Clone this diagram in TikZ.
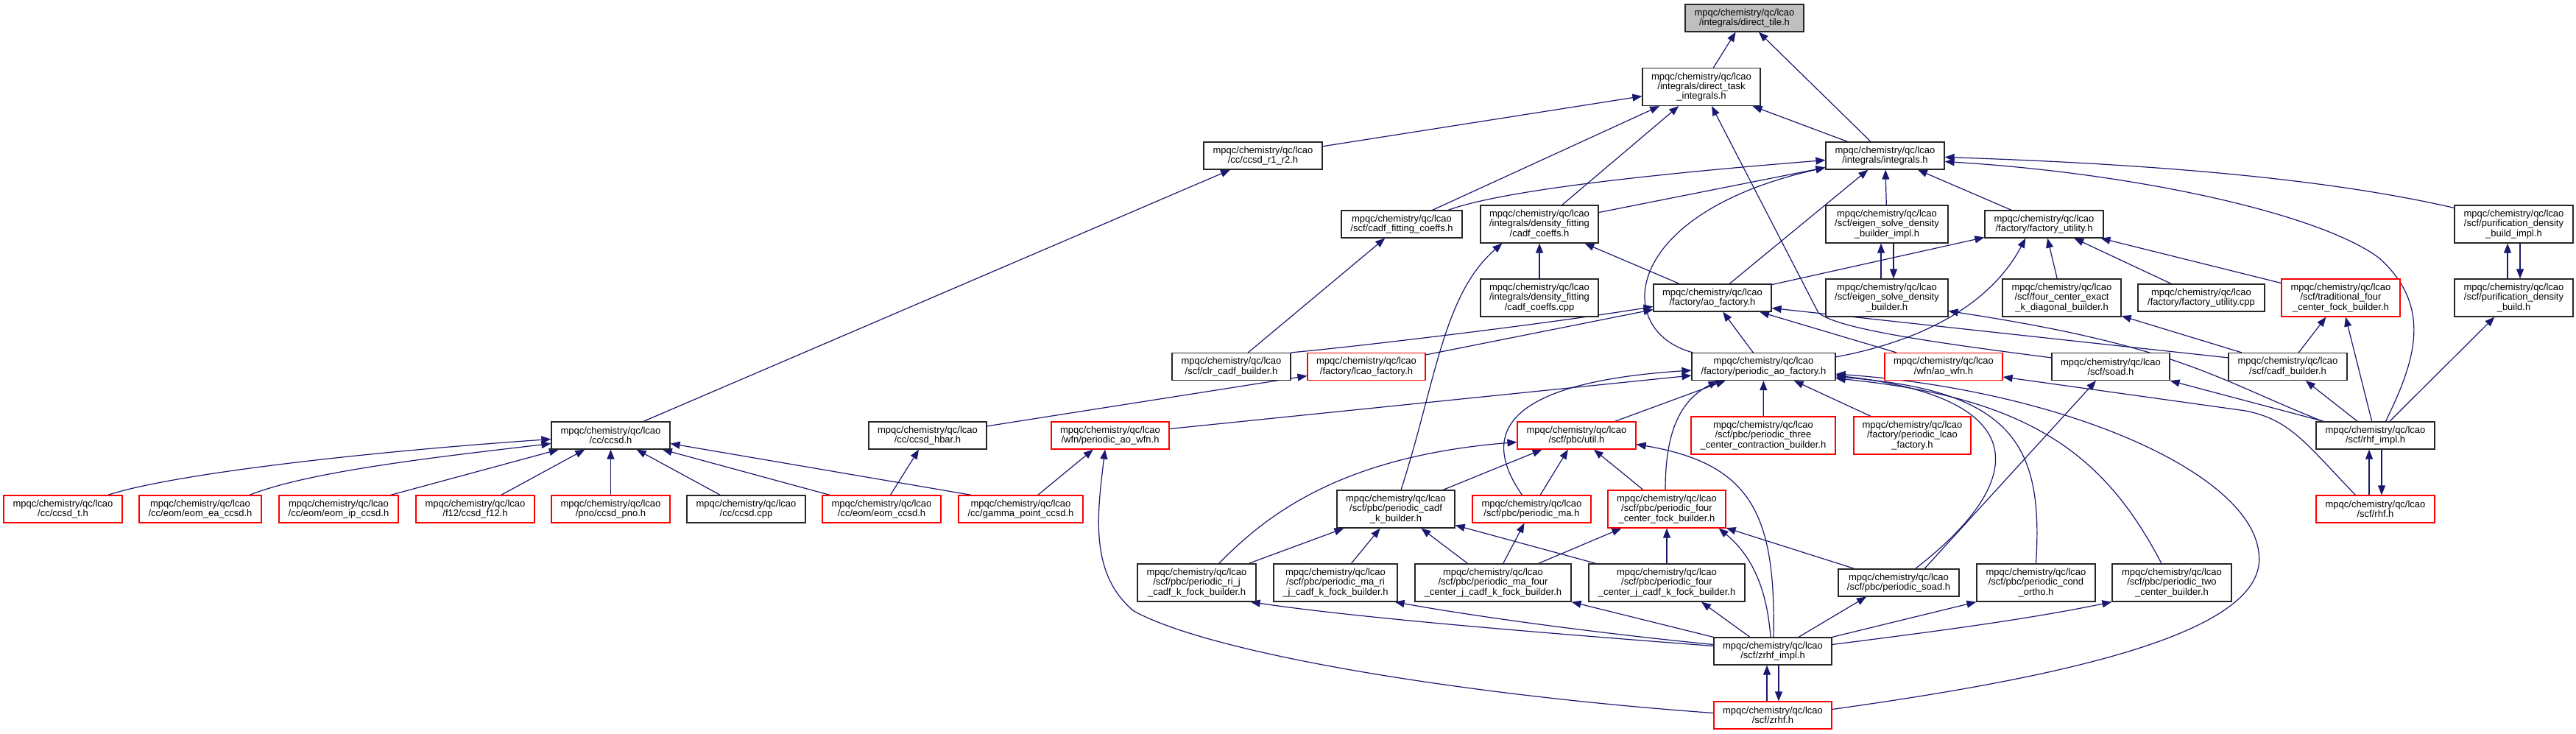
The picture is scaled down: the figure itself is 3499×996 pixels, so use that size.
\documentclass[tikz,border=0pt]{standalone}
\usepackage{fontspec}
\setmainfont{Liberation Sans}
\usetikzlibrary{arrows.meta,calc}
\definecolor{edgeblue}{HTML}{191970}
\definecolor{hlgray}{HTML}{BFBFBF}
\newcommand{\mq}{mpqc/chemistry/qc/lcao\\}
\pgfdeclarelayer{back}
\pgfdeclarelayer{bg}
\pgfsetlayers{back,bg,main}
\begin{document}
\begin{tikzpicture}[x=1pt,y=-1pt,
 nd/.style={draw=black!85,line width=1.2pt,fill=white,inner sep=0pt,align=center,
   font=\fontsize{13}{13.3}\selectfont,minimum width=161pt,minimum height=37pt},
 rn/.style={nd,draw=red},
 tall/.style={minimum height=51pt},
 ed/.style={draw=edgeblue,line width=1.2pt,-{Triangle[length=13pt,width=10pt]}}]
\begin{pgfonlayer}{back}
\fill[white] (0,0) rectangle (3499,996);
\end{pgfonlayer}
\useasboundingbox (0,0) rectangle (3499,996);
% row 0-1
\node[nd,fill=hlgray] (tile) at (2369.5,24.5) {\mq/integrals/direct\_tile.h};
\node[nd,tall,minimum width=160pt] (task) at (2311,118) {\mq/integrals/direct\_task\\\_integrals.h};
% row 2
\node[nd] (r1r2) at (1715.5,211.5) {\mq/cc/ccsd\_r1\_r2.h};
\node[nd] (integrals) at (2560.5,211.5) {\mq/integrals/integrals.h};
% row 3
\node[nd,minimum width=164pt] (cadffit) at (1904,304.5) {\mq/scf/cadf\_fitting\_coeffs.h};
\node[nd,tall,minimum width=160pt] (dfh) at (2091,304.5) {\mq/integrals/density\_fitting\\/cadf\_coeffs.h};
\node[nd,tall,minimum width=166pt] (eigimpl) at (2563,304.5) {\mq/scf/eigen\_solve\_density\\\_builder\_impl.h};
\node[nd] (futil) at (2776.5,304.5) {\mq/factory/factory\_utility.h};
\node[nd,tall] (purimpl) at (3414.5,304.5) {\mq/scf/purification\_density\\\_build\_impl.h};
% row 4
\node[nd,tall,minimum width=160pt] (dfcpp) at (2091,404.5) {\mq/integrals/density\_fitting\\/cadf\_coeffs.cpp};
\node[nd,minimum width=160pt] (aofac) at (2326,404.5) {\mq/factory/ao\_factory.h};
\node[nd,tall,minimum width=166pt] (eig) at (2563,404.5) {\mq/scf/eigen\_solve\_density\\\_builder.h};
\node[nd,tall] (fcexact) at (2800.5,404.5) {\mq/scf/four\_center\_exact\\\_k\_diagonal\_builder.h};
\node[nd,minimum width=172pt] (futilcpp) at (2990,404.5) {\mq/factory/factory\_utility.cpp};
\node[rn,tall] (trad) at (3179.5,404.5) {\mq/scf/traditional\_four\\\_center\_fock\_builder.h};
\node[nd,tall] (pur) at (3414.5,404.5) {\mq/scf/purification\_density\\\_build.h};
% row 5
\node[nd] (clr) at (1672.5,498) {\mq/scf/clr\_cadf\_builder.h};
\node[rn,minimum width=160pt] (lcaofac) at (1856,498) {\mq/factory/lcao\_factory.h};
\node[nd,minimum width=195pt] (paofac) at (2395.5,498) {\mq/factory/periodic\_ao\_factory.h};
\node[rn,minimum width=160pt] (aowfn) at (2640,498) {\mq/wfn/ao\_wfn.h};
\node[nd,minimum width=160pt] (soad) at (2867,498) {\mq/scf/soad.h};
\node[nd] (cadfb) at (3107.5,498) {\mq/scf/cadf\_builder.h};
% row 6
\node[nd] (ccsd) at (829.5,591.5) {\mq/cc/ccsd.h};
\node[nd,minimum width=160pt] (hbar) at (1260,591.5) {\mq/cc/ccsd\_hbar.h};
\node[rn,minimum width=160pt] (paowfn) at (1508,591.5) {\mq/wfn/periodic\_ao\_wfn.h};
\node[rn] (util) at (2141.5,591.5) {\mq/scf/pbc/util.h};
\node[rn,tall,minimum width=196pt] (three) at (2395,591.5) {\mq/scf/pbc/periodic\_three\\\_center\_contraction\_builder.h};
\node[rn,tall,minimum width=159pt] (plcao) at (2597.5,591.5) {\mq/factory/periodic\_lcao\\\_factory.h};
\node[nd] (rhfimpl) at (3226.5,591.5) {\mq/scf/rhf\_impl.h};
% row 7
\node[rn] (ccsdt) at (85.5,691.5) {\mq/cc/ccsd\_t.h};
\node[rn,minimum width=166pt] (eomea) at (272,691.5) {\mq/cc/eom/eom\_ea\_ccsd.h};
\node[rn,minimum width=162pt] (eomip) at (460,691.5) {\mq/cc/eom/eom\_ip\_ccsd.h};
\node[rn] (f12) at (645.5,691.5) {\mq/f12/ccsd\_f12.h};
\node[rn] (pno) at (829.5,691.5) {\mq/pno/ccsd\_pno.h};
\node[nd] (ccsdcpp) at (1013.5,691.5) {\mq/cc/ccsd.cpp};
\node[rn] (eomccsd) at (1197.5,691.5) {\mq/cc/eom/eom\_ccsd.h};
\node[rn,minimum width=169pt] (gamma) at (1386.5,691.5) {\mq/cc/gamma\_point\_ccsd.h};
\node[nd,tall,minimum width=160pt] (pcadfk) at (1896,691.5) {\mq/scf/pbc/periodic\_cadf\\\_k\_builder.h};
\node[rn] (pma) at (2080.5,691.5) {\mq/scf/pbc/periodic\_ma.h};
\node[rn,tall,minimum width=160pt] (pfcfock) at (2264,691.5) {\mq/scf/pbc/periodic\_four\\\_center\_fock\_builder.h};
\node[rn] (rhf) at (3226.5,691.5) {\mq/scf/rhf.h};
% row 8
\node[nd,tall] (prij) at (1625.5,791.5) {\mq/scf/pbc/periodic\_ri\_j\\\_cadf\_k\_fock\_builder.h};
\node[nd,tall,minimum width=168pt] (pmarij) at (1814,791.5) {\mq/scf/pbc/periodic\_ma\_ri\\\_j\_cadf\_k\_fock\_builder.h};
\node[nd,tall,minimum width=212pt] (pmafour) at (2028,791.5) {\mq/scf/pbc/periodic\_ma\_four\\\_center\_j\_cadf\_k\_fock\_builder.h};
\node[nd,tall,minimum width=212pt] (pfourj) at (2264,791.5) {\mq/scf/pbc/periodic\_four\\\_center\_j\_cadf\_k\_fock\_builder.h};
\node[nd,minimum width=164pt] (psoad) at (2579,791.5) {\mq/scf/pbc/periodic\_soad.h};
\node[nd,tall] (condortho) at (2765.5,791.5) {\mq/scf/pbc/periodic\_cond\\\_ortho.h};
\node[nd,tall,minimum width=162pt] (twoc) at (2950,791.5) {\mq/scf/pbc/periodic\_two\\\_center\_builder.h};
% row 9-10
\node[nd,minimum width=160pt] (zrhfimpl) at (2408,884.5) {\mq/scf/zrhf\_impl.h};
\node[rn,minimum width=160pt] (zrhf) at (2408,971.5) {\mq/scf/zrhf.h};

\begin{pgfonlayer}{bg}
\draw[ed] (task) -- (tile);
\draw[ed] (integrals) -- (tile);
\draw[ed] (r1r2) -- (task);
\draw[ed] (cadffit) -- (task);
\draw[ed] (dfh) -- (task);
\draw[ed] (integrals) -- (task);
\draw[ed] ($(soad.north west)+(0,7)$) .. controls (2600,462) and (2495,445) .. (2470,425) -- ($(task.south)+(14,0)$);
\draw[ed] ($(cadffit.north)+(63,0)$) .. controls (2050,255) and (2300,232) .. ($(integrals.west)+(0,6)$);
\draw[ed] (dfh) -- (integrals);
\draw[ed] ($(paofac.north west)+(2,0)$) .. controls (2190,450) and (2200,290) .. ($(integrals.south west)+(0,-3)$);
\draw[ed] (aofac) -- (integrals);
\draw[ed] (eigimpl) -- (integrals);
\draw[ed] (futil) -- (integrals);
\draw[ed] ($(purimpl.north west)+(0,4)$) .. controls (3150,240) and (2900,222) .. ($(integrals.east)+(0,2)$);
\draw[ed] ($(rhfimpl.north)+(14,0)$) .. controls (3275,500) and (3310,420) .. (3231,350) .. controls (3150,290) and (2900,235) .. ($(integrals.east)+(0,8)$);
\draw[ed] (ccsd) -- (r1r2);
\draw[ed] (clr) -- (cadffit);
\draw[ed] (clr.north east) .. controls (1850,470) and (2100,440) .. ($(aofac.west)+(0,12)$);
\draw[ed] (lcaofac) -- (aofac);
\draw[ed] ($(pcadfk.north)+(7,0)$) .. controls (1950,520) and (1960,400) .. ($(dfh.south west)+(30,0)$);
\draw[ed] (dfcpp) -- (dfh);
\draw[ed] (aofac) -- (dfh);
\draw[ed] ($(eigimpl.south)+(9,0)$) -- ($(eig.north)+(9,0)$);
\draw[ed] ($(eig.north)+(-8,0)$) -- ($(eigimpl.south)+(-8,0)$);
\draw[ed] (aofac) -- (futil);
\draw[ed] ($(paofac.north east)+(0,6)$) .. controls (2600,465) and (2700,420) .. ($(futil.south west)+(56,0)$);
\draw[ed] (fcexact) -- (futil);
\draw[ed] (futilcpp) -- (futil);
\draw[ed] (trad) -- (futil);
\draw[ed] ($(purimpl.south)+(8.5,0)$) -- ($(pur.north)+(8.5,0)$);
\draw[ed] ($(pur.north)+(-8.5,0)$) -- ($(purimpl.south)+(-8.5,0)$);
\draw[ed] (paofac) -- (aofac);
\draw[ed] (aowfn) -- (aofac);
\draw[ed] ($(cadfb.north west)+(0,7)$) -- ($(aofac.east)+(0,14)$);
\draw[ed] ($(rhfimpl.north west)+(10,0)$) .. controls (3010,515) and (2960,470) .. ($(eig.east)+(0,18)$);
\draw[ed] (cadfb) -- (fcexact);
\draw[ed] (cadfb) -- (trad);
\draw[ed] (rhfimpl) -- (trad);
\draw[ed] (rhfimpl) -- (pur);
\draw[ed] (hbar) -- (lcaofac);
\draw[ed] ($(paowfn.east)+(0,-9)$) -- ($(paofac.west)+(0,12)$);
\draw[ed] ($(pma.north)+(-13,0)$) .. controls (2010,590) and (2040,520) .. ($(paofac.west)+(0,5)$);
\draw[ed] (util) -- (paofac);
\draw[ed] ($(pfcfock.north)+(-2,0)$) .. controls (2262,590) and (2280,545) .. ($(paofac.south west)+(36,0)$);
\draw[ed] (three) -- (paofac);
\draw[ed] (plcao) -- (paofac);
\draw[ed] ($(psoad.north east)+(-60,0)$) .. controls (2760,650) and (2760,540) .. ($(paofac.east)+(0,12)$);
\draw[ed] (condortho.north) .. controls (2775,610) and (2740,530) .. ($(paofac.east)+(0,14)$);
\draw[ed] ($(twoc.north)+(-14,0)$) .. controls (2860,620) and (2760,540) .. ($(paofac.east)+(0,16)$);
\draw[ed] ($(zrhf.east)+(0,-8)$) .. controls (2800,920) and (3085,860) .. (3068,750) .. controls (3055,640) and (2800,530) .. ($(paofac.east)+(0,10)$);
\draw[ed] ($(rhf.north west)+(54,0)$) .. controls (3130,600) and (3110,570) .. (3050,558) -- ($(aowfn.east)+(0,14)$);
\draw[ed] ($(psoad.north)+(35,0)$) -- ($(soad.south)+(-20,0)$);
\draw[ed] ($(rhfimpl.north west)+(11,0)$) -- (soad.south east);
\draw[ed] (rhfimpl) -- (cadfb);
\draw[ed] ($(rhfimpl.south)+(8.5,0)$) -- ($(rhf.north)+(8.5,0)$);
\draw[ed] ($(rhf.north)+(-8.5,0)$) -- ($(rhfimpl.south)+(-8.5,0)$);
\draw[ed] ($(ccsdt.north)+(61,0)$) .. controls (230,645) and (480,615) .. ($(ccsd.west)+(0,5)$);
\draw[ed] ($(eomea.north)+(67,0)$) .. controls (420,640) and (600,620) .. ($(ccsd.west)+(0,11)$);
\draw[ed] (eomip) -- (ccsd);
\draw[ed] (f12) -- (ccsd);
\draw[ed] (pno) -- (ccsd);
\draw[ed] (ccsdcpp) -- (ccsd);
\draw[ed] (eomccsd) -- (ccsd);
\draw[ed] ($(gamma.north)+(-67,0)$) -- ($(ccsd.east)+(0,11)$);
\draw[ed] (eomccsd) -- (hbar);
\draw[ed] (gamma) -- (paowfn);
\draw[ed] ($(zrhf.west)+(0,-3)$) .. controls (2000,945) and (1650,890) .. (1540,830) .. controls (1480,780) and (1490,700) .. ($(paowfn.south)+(-7,0)$);
\draw[ed] ($(prij.north)+(30,0)$) .. controls (1720,700) and (1820,620) .. ($(util.west)+(0,9)$);
\draw[ed] (pcadfk) -- (util);
\draw[ed] (pma) -- (util);
\draw[ed] (pfcfock) -- (util);
\draw[ed] ($(zrhfimpl.north)+(1,0)$) .. controls (2412,700) and (2380,630) .. ($(util.east)+(0,12)$);
\draw[ed] (prij) -- (pcadfk);
\draw[ed] (pmarij) -- (pcadfk);
\draw[ed] (pmafour) -- (pcadfk);
\draw[ed] (pfourj) -- (pcadfk);
\draw[ed] (pmafour) -- (pma);
\draw[ed] (pmafour) -- (pfcfock);
\draw[ed] (pfourj) -- (pfcfock);
\draw[ed] ($(zrhfimpl.north)+(-3,0)$) .. controls (2400,800) and (2380,755) .. ($(pfcfock.south east)+(-10,0)$);
\draw[ed] (psoad) -- (pfcfock);
\draw[ed] ($(zrhfimpl.west)+(0,-7)$) .. controls (2100,860) and (1850,840) .. ($(prij.south east)+(-8,0)$);
\draw[ed] ($(zrhfimpl.west)+(0,-9)$) .. controls (2150,858) and (1990,835) .. ($(pmarij.south east)+(-4,0)$);
\draw[ed] (zrhfimpl.north west) -- (pmafour.south east);
\draw[ed] ($(zrhfimpl.north)+(-31,0)$) -- ($(pfourj.south)+(47,0)$);
\draw[ed] ($(zrhfimpl.north)+(35,0)$) -- ($(psoad.south)+(-44,0)$);
\draw[ed] (zrhfimpl.north east) -- (condortho.south west);
\draw[ed] ($(zrhfimpl.east)+(0,-9)$) .. controls (2650,855) and (2760,840) .. (twoc.south west);
\draw[ed] ($(zrhf.north)+(-8,0)$) -- ($(zrhfimpl.south)+(-8,0)$);
\draw[ed] ($(zrhfimpl.south)+(8,0)$) -- ($(zrhf.north)+(8,0)$);
\end{pgfonlayer}
\end{tikzpicture}
\end{document}
